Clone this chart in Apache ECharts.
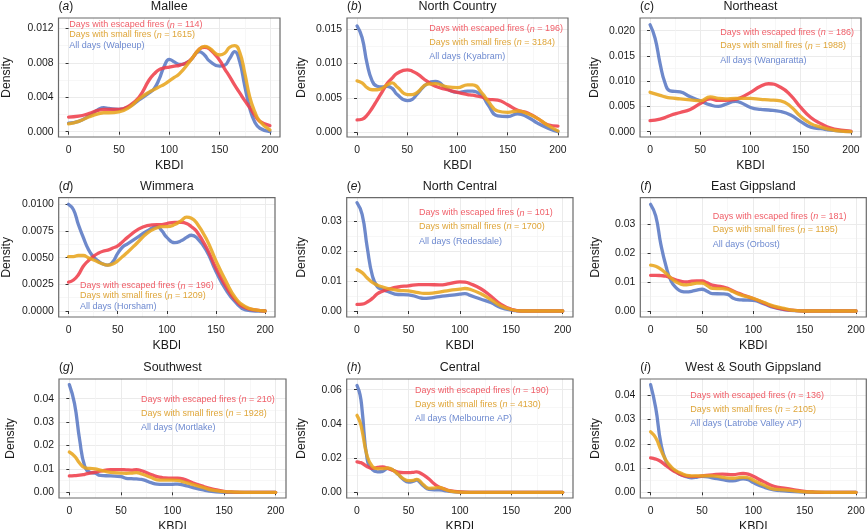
<!DOCTYPE html>
<html><head><meta charset="utf-8">
<style>html,body{margin:0;padding:0;background:#fff}#c{width:867px;height:529px}</style>
<script src="https://cdn.jsdelivr.net/npm/echarts@6/dist/echarts.min.js"></script></head>
<body><div id="c"></div>
<script>
const aX=[0,10,20,30,35,40,50,60,70,80,85,90,95,100,105,110,120,130,135,140,150,155,160,165,170,175,180,185,190,200];
const aAll=[.0010,.0012,.0018,.0026,.0028,.0027,.0026,.0029,.0037,.0045,.0050,.0061,.0076,.0084,.0081,.0078,.0082,.0093,.0089,.0082,.0076,.0077,.0085,.0093,.0081,.0053,.0027,.0011,.0004,.0000];
const aEsc=[.0017,.0018,.0021,.0025,.0026,.0026,.0026,.0030,.0040,.0060,.0067,.0072,.0074,.0075,.0076,.0077,.0082,.0096,.0098,.0096,.0083,.0073,.0064,.0054,.0045,.0036,.0028,.0019,.0012,.0007];
const aSmall=[.0009,.0012,.0017,.0021,.0022,.0022,.0023,.0028,.0038,.0046,.0049,.0052,.0055,.0059,.0063,.0067,.0081,.0096,.0099,.0097,.0089,.0091,.0098,.0100,.0092,.0068,.0040,.0023,.0012,.0002];

const bX=[0,5,10,15,20,25,30,35,40,50,55,60,70,78,90,100,110,115,125,130,140,150,160,170,180,190,200];
const bAll=[.0155,.0138,.0100,.0075,.0067,.0066,.0067,.0064,.0055,.0046,.0048,.0056,.0071,.0074,.0063,.0058,.0060,.0060,.0052,.0041,.0024,.0023,.0027,.0022,.0013,.0006,.0001];
const bEsc=[.0018,.0019,.0025,.0035,.0047,.0059,.0071,.0079,.0086,.0091,.0089,.0085,.0074,.0067,.0062,.0058,.0055,.0054,.0051,.0048,.0047,.0040,.0032,.0028,.0020,.0011,.0009];
const bSmall=[.0075,.0072,.0065,.0062,.0062,.0064,.0069,.0072,.0066,.0055,.0055,.0058,.0070,.0071,.0066,.0065,.0069,.0069,.0056,.0046,.0031,.0029,.0031,.0027,.0020,.0010,.0002];

const cX=[0,5,10,15,20,30,40,50,60,68,75,85,90,100,110,118,130,140,150,160,170,180,190,200];
const cAll=[.0212,.0185,.0135,.0096,.0081,.0079,.0069,.0061,.0053,.0050,.0054,.0060,.0058,.0048,.0044,.0043,.0040,.0033,.0020,.0009,.0006,.0003,.0001,.0000];
const cEsc=[.0022,.0023,.0025,.0028,.0032,.0038,.0044,.0056,.0065,.0062,.0062,.0064,.0067,.0078,.0090,.0095,.0088,.0072,.0048,.0028,.0016,.0007,.0003,.0001];
const cSmall=[.0078,.0075,.0072,.0069,.0067,.0065,.0063,.0061,.0069,.0066,.0065,.0066,.0066,.0066,.0064,.0063,.0061,.0050,.0030,.0016,.0009,.0004,.0001,.0000];

const dX=[0,5,10,15,20,25,30,35,40,45,50,55,60,70,80,90,95,100,108,115,120,125,130,140,150,160,170,180,190,200];
const dAll=[.0100,.0095,.0081,.0069,.0058,.0051,.0047,.0044,.0043,.0046,.0054,.0060,.0063,.0069,.0075,.0079,.0075,.0069,.0064,.0066,.0069,.0071,.0069,.0057,.0037,.0020,.0008,.0001,.0000,.0000];
const dEsc=[.0027,.0029,.0034,.0042,.0047,.0051,.0054,.0056,.0057,.0059,.0061,.0065,.0069,.0076,.0080,.0081,.0081,.0082,.0083,.0083,.0082,.0079,.0075,.0060,.0040,.0023,.0010,.0003,.0001,.0000];
const dSmall=[.0051,.0051,.0052,.0052,.0050,.0048,.0046,.0044,.0043,.0044,.0047,.0051,.0055,.0064,.0073,.0078,.0079,.0079,.0081,.0085,.0088,.0087,.0083,.0068,.0047,.0028,.0012,.0004,.0001,.0000];

const eX=[0,5,10,15,20,25,30,40,50,60,65,70,80,90,100,105,110,120,130,140,150,160,170,180,190,200];
const eAll=[.0361,.0322,.0211,.0117,.0080,.0072,.0065,.0055,.0054,.0045,.0042,.0043,.0048,.0052,.0056,.0058,.0052,.0040,.0028,.0011,.0003,.0000,.0000,.0000,.0000,.0000];
const eEsc=[.0022,.0023,.0030,.0042,.0058,.0066,.0072,.0080,.0084,.0088,.0088,.0088,.0087,.0091,.0097,.0096,.0091,.0075,.0050,.0022,.0006,.0000,.0000,.0000,.0000,.0000];
const eSmall=[.0138,.0128,.0110,.0095,.0086,.0080,.0075,.0069,.0067,.0061,.0059,.0059,.0063,.0069,.0073,.0075,.0072,.0058,.0038,.0017,.0005,.0000,.0000,.0000,.0000,.0000];

const fX=[0,5,10,15,20,25,30,35,40,45,50,55,60,70,75,80,85,90,100,110,120,130,140,150,160,170,180,190,200];
const fAll=[.0368,.0328,.0230,.0155,.0103,.0080,.0068,.0066,.0068,.0072,.0075,.0068,.0060,.0059,.0057,.0045,.0039,.0038,.0037,.0025,.0012,.0005,.0001,.0000,.0000,.0000,.0000,.0000,.0000];
const fEsc=[.0123,.0123,.0122,.0120,.0114,.0107,.0102,.0100,.0103,.0104,.0104,.0097,.0089,.0083,.0078,.0070,.0062,.0055,.0043,.0028,.0014,.0006,.0002,.0000,.0000,.0000,.0000,.0000,.0000];
const fSmall=[.0158,.0154,.0144,.0130,.0113,.0100,.0092,.0090,.0093,.0096,.0096,.0088,.0078,.0077,.0075,.0067,.0059,.0053,.0043,.0030,.0017,.0009,.0002,.0000,.0000,.0000,.0000,.0000,.0000];

const gX=[0,5,10,15,20,25,30,40,50,55,60,65,70,80,85,90,100,105,110,120,130,140,150,160,170,180,190,200];
const gAll=[.0460,.0380,.0225,.0110,.0085,.0082,.0072,.0070,.0067,.0060,.0058,.0057,.0055,.0040,.0035,.0034,.0034,.0035,.0032,.0020,.0010,.0003,.0000,.0000,.0000,.0000,.0000,.0000];
const gEsc=[.0070,.0071,.0073,.0077,.0082,.0086,.0090,.0097,.0097,.0096,.0095,.0097,.0092,.0075,.0067,.0063,.0060,.0060,.0057,.0040,.0025,.0013,.0004,.0001,.0000,.0000,.0000,.0000];
const gSmall=[.0172,.0155,.0125,.0105,.0102,.0100,.0095,.0085,.0082,.0081,.0082,.0084,.0078,.0062,.0053,.0052,.0052,.0051,.0045,.0033,.0020,.0008,.0003,.0001,.0000,.0000,.0000,.0000];

const hX=[0,3,5,10,15,20,25,30,35,40,45,50,55,58,60,65,70,75,80,85,90,100,110,125,150,175,200];
const hAll=[.0625,.0570,.0480,.0190,.0132,.0120,.0123,.0140,.0130,.0105,.0075,.0060,.0065,.0072,.0065,.0035,.0017,.0015,.0015,.0010,.0005,.0001,.0000,.0000,.0000,.0000,.0000];
const hEsc=[.0178,.0174,.0170,.0150,.0140,.0145,.0148,.0140,.0128,.0118,.0115,.0115,.0117,.0120,.0117,.0100,.0078,.0050,.0030,.0020,.0010,.0002,.0000,.0000,.0000,.0000,.0000];
const hSmall=[.0450,.0410,.0360,.0210,.0150,.0138,.0138,.0142,.0130,.0105,.0080,.0068,.0070,.0076,.0072,.0042,.0023,.0025,.0028,.0018,.0008,.0001,.0000,.0000,.0000,.0000,.0000];

const iX=[0,5,10,15,20,25,30,35,40,45,50,60,70,80,90,95,100,110,120,130,140,150,160,170,180,190,200];
const iAll=[.0444,.0348,.0203,.0128,.0100,.0085,.0072,.0064,.0060,.0062,.0066,.0060,.0052,.0047,.0055,.0052,.0040,.0022,.0010,.0006,.0003,.0001,.0000,.0000,.0000,.0000,.0000];
const iEsc=[.0142,.0137,.0127,.0110,.0095,.0082,.0072,.0067,.0065,.0066,.0068,.0072,.0075,.0073,.0078,.0075,.0066,.0044,.0025,.0017,.0010,.0004,.0001,.0000,.0000,.0000,.0000];
const iSmall=[.0250,.0225,.0175,.0132,.0105,.0088,.0078,.0070,.0068,.0068,.0068,.0068,.0062,.0058,.0062,.0060,.0050,.0030,.0013,.0010,.0006,.0002,.0001,.0000,.0000,.0000,.0000];

const xTicks=[0,50,100,150,200];
const xMinor=[25,75,125,175];
const tags=['a','b','c','d','e','f','g','h','i'];
const names=['Mallee','North Country','Northeast','Wimmera','North Central','East Gippsland','Southwest','Central','West & South Gippsland'];
const stations=['Walpeup','Kyabram','Wangaratta','Horsham','Redesdale','Orbost','Mortlake','Melbourne AP','Latrobe Valley AP'];
const nEscaped=[114,196,186,196,101,181,210,190,136];
const nSmall=[1615,3184,1988,1209,1700,1195,1928,4130,2105];
const yTicks=[[0,.004,.008,.012],[0,.005,.01,.015],[0,.005,.01,.015,.02],[0,.0025,.005,.0075,.01],[0,.01,.02,.03],[0,.01,.02,.03],[0,.01,.02,.03,.04],[0,.02,.04,.06],[0,.01,.02,.03,.04]];
const yDecimals=[3,3,3,4,2,2,2,2,2];
const xs=[aX,bX,cX,dX,eX,fX,gX,hX,iX];
const allDays=[aAll,bAll,cAll,dAll,eAll,fAll,gAll,hAll,iAll];
const escaped=[aEsc,bEsc,cEsc,dEsc,eEsc,fEsc,gEsc,hEsc,iEsc];
const small=[aSmall,bSmall,cSmall,dSmall,eSmall,fSmall,gSmall,hSmall,iSmall];

// layout, in page pixels: panel box, y pixel of value 0, y pixel of top tick, y-title gap, note x and note y's
const layout=[
 {l:58.5,r:280,t:18,b:137,y0:131.7,yT:28.3,gap:46,nx:69.3,ny:[25,35,45.7]},
 {l:347,r:568,t:18,b:137,y0:132.3,yT:29.3,gap:39,nx:429.3,ny:[29,42.7,57]},
 {l:640,r:861,t:18,b:137,y0:131.7,yT:30.7,gap:39,nx:720.3,ny:[32.3,46,60.3]},
 {l:58.7,r:275,t:197.7,b:317,y0:311,yT:204.3,gap:46,nx:80,ny:[286,296,306.7]},
 {l:346.7,r:573,t:197.7,b:317,y0:311,yT:221,gap:39,nx:419,ny:[213,226.7,241.3]},
 {l:640.3,r:866.3,t:197.7,b:317,y0:311,yT:224,gap:39,nx:712.7,ny:[216.3,230,244.3]},
 {l:59,r:286,t:379,b:498,y0:492.3,yT:398.7,gap:42,nx:141,ny:[399.7,413.3,428]},
 {l:346.7,r:573,t:379,b:498,y0:492.3,yT:389.7,gap:39,nx:415,ny:[390.7,404.7,419]},
 {l:640.3,r:866.3,t:379,b:498,y0:492.3,yT:395.3,gap:39,nx:690.3,ny:[395.7,409.7,424]}
];
const FONT='"Liberation Sans", Arial, sans-serif';
const RED='#EF3F4B',ORANGE='#E8A51E',BLUE='#5A79C4';
const NOTE={esc:'#F0606A',small:'#DFA63A',all:'#6E8AD0'};

const option={animation:false,backgroundColor:'#fff',textStyle:{fontFamily:FONT},grid:[],xAxis:[],yAxis:[],series:[],graphic:[]};
layout.forEach((p,i)=>{
  const perPx=yTicks[i][yTicks[i].length-1]/(p.y0-p.yT);
  const yMin=-(p.b-p.y0)*perPx, yMax=(p.y0-p.t)*perPx;
  const step=yTicks[i][1];
  const yMinor=yTicks[i].slice(0,-1).map(v=>v+step/2);
  const gi=i;
  option.grid.push({left:p.l,top:p.t,width:p.r-p.l,height:p.b-p.t,show:true,containLabel:false,outerBoundsMode:'none',borderColor:'#6a6a6a',borderWidth:1.2,backgroundColor:'transparent',z:5});
  const xi=option.xAxis.length, yi=option.yAxis.length;
  option.xAxis.push({type:'value',gridIndex:gi,position:'bottom',min:-10,max:210,
    name:'KBDI',nameLocation:'middle',nameGap:23,nameTextStyle:{fontSize:12.3,color:'#1a1a1a',fontFamily:FONT},
    axisLine:{show:false},axisTick:{show:true,length:3,inside:false,customValues:xTicks,lineStyle:{color:'#333',width:1}},
    axisLabel:{show:true,margin:8.5,fontSize:10.4,color:'#1a1a1a',fontFamily:FONT,customValues:xTicks,formatter:v=>String(v),hideOverlap:false},
    splitLine:{show:true,lineStyle:{color:'#ebebeb',width:1}}});
  option.xAxis.push({type:'value',gridIndex:gi,position:'top',min:-10,max:210,
    axisLine:{show:false},axisTick:{show:false,customValues:xMinor},axisLabel:{show:false},
    splitLine:{show:true,lineStyle:{color:'#f3f3f3',width:.7}}});
  option.yAxis.push({type:'value',gridIndex:gi,position:'left',min:yMin,max:yMax,
    name:'Density',nameLocation:'middle',nameGap:p.gap,nameRotate:90,nameTextStyle:{fontSize:12.3,color:'#1a1a1a',fontFamily:FONT},
    axisLine:{show:false},axisTick:{show:true,length:3,customValues:yTicks[i],lineStyle:{color:'#333',width:1}},
    axisLabel:{show:true,margin:5,fontSize:10.4,color:'#1a1a1a',fontFamily:FONT,customValues:yTicks[i],formatter:v=>Math.abs(v).toFixed(yDecimals[i])},
    splitLine:{show:true,lineStyle:{color:'#ebebeb',width:1}}});
  option.yAxis.push({type:'value',gridIndex:gi,position:'right',min:yMin,max:yMax,
    axisLine:{show:false},axisTick:{show:false,customValues:yMinor},axisLabel:{show:false},
    splitLine:{show:true,lineStyle:{color:'#f3f3f3',width:.7}}});
  [['All days',allDays[i],BLUE],['Days with escaped fires',escaped[i],RED],['Days with small fires',small[i],ORANGE]].forEach(([nm,vals,col])=>{
    option.series.push({type:'line',name:nm,xAxisIndex:xi,yAxisIndex:yi,data:xs[i].map((x,k)=>[x,vals[k]]),
      showSymbol:false,symbol:'none',smooth:.5,clip:true,z:3,
      lineStyle:{color:col,width:3.3,opacity:.88,cap:'round',join:'round'},itemStyle:{color:col}});
  });
  const txt=(x,y,text,extra)=>option.graphic.push({type:'text',silent:true,x,y,z:10,style:Object.assign({text,fontFamily:FONT,verticalAlign:'middle',align:'left',fill:'#1a1a1a'},extra)});
  const cx=(p.l+p.r)/2, ty=p.t-11.5;
  txt(cx,ty,names[i],{align:'center',fontSize:12.5});
  txt(p.l,ty,'({i|'+tags[i]+'})',{fontSize:12,rich:{i:{fontStyle:'italic',fontSize:12,fontFamily:FONT,fill:'#1a1a1a'}}});
  const note=(y,s,col)=>txt(p.nx,y,s,{fontSize:9,fill:col,rich:{i:{fontStyle:'italic',fontSize:9,fontFamily:FONT,fill:col}}});
  note(p.ny[0],'Days with escaped fires ({i|n} = '+nEscaped[i]+')',NOTE.esc);
  note(p.ny[1],'Days with small fires ({i|n} = '+nSmall[i]+')',NOTE.small);
  note(p.ny[2],'All days ('+stations[i]+')',NOTE.all);
});
echarts.init(document.getElementById('c'),null,{renderer:'canvas'}).setOption(option);
</script></body></html>
